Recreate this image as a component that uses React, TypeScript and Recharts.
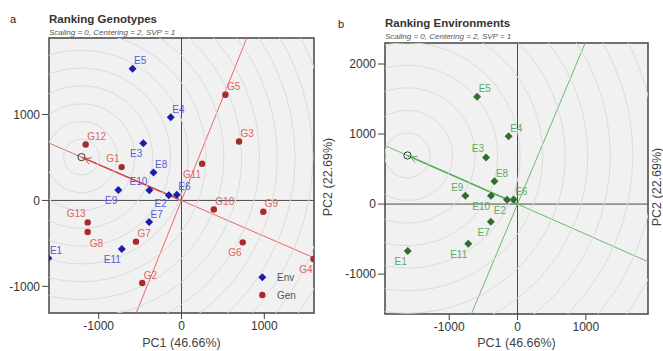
import React from 'react';
import {
  ScatterChart,
  Scatter,
  XAxis,
  YAxis,
  CartesianGrid,
  ReferenceLine,
  ReferenceArea,
} from 'recharts';

const FONT = '"Liberation Sans", Arial, sans-serif';

// environment scores (same in both biplots)
const envNames = ['E1', 'E2', 'E3', 'E4', 'E5', 'E6', 'E7', 'E8', 'E9', 'E10', 'E11'];
const envPC1 = [-1607, -153, -461, -130, -591, -56, -391, -338, -763, -388, -721];
const envPC2 = [-672, 61, 666, 968, 1531, 65, -252, 325, 120, 118, -566];

// genotype scores
const genNames = ['G1', 'G2', 'G3', 'G4', 'G5', 'G6', 'G7', 'G8', 'G9', 'G10', 'G11', 'G12', 'G13'];
const genPC1 = [-723, -474, 695, 1594, 530, 739, -550, -1133, 988, 390, 249, -1157, -1133];
const genPC2 = [388, -961, 686, -681, 1229, -488, -480, -368, -131, -105, 427, 651, -256];

// ideal points on the average environment axis
const idealGenotype = { x: -1208, y: 504 };
const idealEnvironment = { x: -1611, y: 694 };

const pc1Ticks = [-1000, 0, 1000];
const pc2TicksA = [-1000, 0, 1000];
const pc2TicksB = [-1000, 0, 1000, 2000];

// label placement around each marker
const envLabelA: Record<string, string> = {
  E1: 'tr', E2: 'l', E3: 'bl', E4: 'tr', E5: 'tr', E6: 'tr',
  E7: 'tr', E8: 'tr', E9: 'bl', E10: 'tl', E11: 'bl',
};
const genLabelA: Record<string, string> = {
  G1: 'tl', G2: 'tr', G3: 'tr', G4: 'bl', G5: 'tr', G6: 'bl', G7: 'tr',
  G8: 'br', G9: 'tr', G10: 'tr', G11: 'bl', G12: 'tr', G13: 'tl',
};
const envLabelB: Record<string, string> = {
  E1: 'bl', E2: 'bl', E3: 'tl', E4: 'tr', E5: 'tr', E6: 'tr',
  E7: 'bl', E8: 'tr', E9: 'tl', E10: 'bl', E11: 'bl',
};

const envRows = envNames.map((name, i) => ({ name, x: envPC1[i], y: envPC2[i] }));
const genRows = genNames.map((name, i) => ({ name, x: genPC1[i], y: genPC2[i] }));

function placeLabel(cx: number, cy: number, place: string) {
  switch (place) {
    case 'tl':
      return { x: cx - 2, y: cy - 5, anchor: 'end' };
    case 'bl':
      return { x: cx - 1, y: cy + 14, anchor: 'end' };
    case 'l':
      return { x: cx - 2, y: cy + 11.5, anchor: 'end' };
    case 'br':
      return { x: cx + 2, y: cy + 15, anchor: 'start' };
    default:
      return { x: cx + 1.5, y: cy - 4.5, anchor: 'start' };
  }
}

function makeMarker(kind: 'diamond' | 'dot', fill: string, labelFill: string, places: Record<string, string>) {
  return (p: any) => {
    const { cx, cy } = p;
    if (cx == null || cy == null) return <g />;
    const name = p.payload?.name ?? p.name;
    const pos = placeLabel(cx, cy, places[name] ?? 'tr');
    return (
      <g>
        {kind === 'diamond' ? (
          <path d={`M${cx},${cy - 4}L${cx + 4},${cy}L${cx},${cy + 4}L${cx - 4},${cy}Z`} fill={fill} />
        ) : (
          <circle cx={cx} cy={cy} r={3.2} fill={fill} />
        )}
        <text x={pos.x} y={pos.y} textAnchor={pos.anchor as any} fontSize={10} fill={labelFill} fontFamily={FONT}>
          {name}
        </text>
      </g>
    );
  };
}

function makeRings(step: number, count: number, pxPerUnit: number) {
  return (p: any) => {
    const { cx, cy } = p;
    if (cx == null || cy == null) return <g />;
    return (
      <g>
        {Array.from({ length: count }, (_, k) => (
          <circle key={k} cx={cx} cy={cy} r={(k + 1) * step * pxPerUnit} fill="none" stroke="#dcdcdc" strokeWidth={1} />
        ))}
      </g>
    );
  };
}

function makeIdeal(color: string, dirX: number, dirY: number) {
  return (p: any) => {
    const { cx, cy } = p;
    if (cx == null || cy == null) return <g />;
    const ang = Math.atan2(dirY, dirX);
    const L = 7;
    const a = 0.5;
    const tx = cx + 3.5 * Math.cos(ang);
    const ty = cy + 3.5 * Math.sin(ang);
    return (
      <g>
        <circle cx={cx} cy={cy} r={3.6} fill="none" stroke="#333" strokeWidth={1} />
        <path
          d={`M${tx + L * Math.cos(ang - a)},${ty + L * Math.sin(ang - a)}L${tx},${ty}L${tx + L * Math.cos(ang + a)},${ty + L * Math.sin(ang + a)}`}
          fill="none"
          stroke={color}
          strokeWidth={1}
        />
      </g>
    );
  };
}

type BiplotProps = {
  width: number;
  margin: { top: number; right: number; bottom: number; left: number };
  yAxisWidth: number;
  xDomain: [number, number];
  yDomain: [number, number];
  yTicks: number[];
  ideal: { x: number; y: number };
  ringStep: number;
  ringCount: number;
  lineColor: string;
  lineDark: string;
  children?: React.ReactNode;
};

const HEIGHT = 351;
const X_AXIS_H = 30;

function Biplot(props: BiplotProps) {
  const { width, margin, yAxisWidth, xDomain, yDomain, yTicks, ideal, ringStep, ringCount, lineColor, lineDark } = props;
  const plotW = width - margin.left - margin.right - yAxisWidth;
  const plotH = HEIGHT - margin.top - margin.bottom - X_AXIS_H;
  const pxX = plotW / (xDomain[1] - xDomain[0]);
  const pxY = plotH / (yDomain[1] - yDomain[0]);
  const k = 5;
  const tick = { fontSize: 12, fill: '#333', fontFamily: FONT };
  return (
    <ScatterChart width={width} height={HEIGHT} margin={margin}>
      <CartesianGrid horizontal={false} vertical={false} fill="#f1f1f1" />
      <XAxis
        type="number"
        dataKey="x"
        domain={xDomain}
        ticks={pc1Ticks}
        allowDataOverflow
        axisLine={false}
        tickLine={{ stroke: '#444' }}
        tickSize={6}
        tick={tick}
        height={X_AXIS_H}
      />
      <YAxis
        type="number"
        dataKey="y"
        domain={yDomain}
        ticks={yTicks}
        allowDataOverflow
        axisLine={false}
        tickLine={{ stroke: '#444' }}
        tickSize={7}
        tick={tick}
        width={yAxisWidth}
      />
      <Scatter data={[ideal]} shape={makeRings(ringStep, ringCount, pxX)} isAnimationActive={false} />
      <ReferenceLine x={0} stroke="#4a4a4a" strokeWidth={1} />
      <ReferenceLine y={0} stroke="#4a4a4a" strokeWidth={1} />
      <ReferenceLine
        segment={[{ x: ideal.x * k, y: ideal.y * k }, { x: -ideal.x * k, y: -ideal.y * k }]}
        stroke={lineColor}
        strokeWidth={1}
        ifOverflow="hidden"
      />
      <ReferenceLine
        segment={[{ x: ideal.y * k, y: -ideal.x * k }, { x: -ideal.y * k, y: ideal.x * k }]}
        stroke={lineColor}
        strokeWidth={1}
        ifOverflow="hidden"
      />
      <ReferenceLine
        segment={[{ x: ideal.x, y: ideal.y }, { x: 0, y: 0 }]}
        stroke={lineDark}
        strokeWidth={1.6}
        ifOverflow="hidden"
      />
      <ReferenceArea
        x1={xDomain[0]}
        x2={xDomain[1]}
        y1={yDomain[0]}
        y2={yDomain[1]}
        fill="none"
        stroke="#444"
        strokeWidth={1.5}
        ifOverflow="visible"
      />
      {props.children}
      <Scatter data={[ideal]} shape={makeIdeal(lineDark, -ideal.x * pxX, ideal.y * pxY)} isAnimationActive={false} />
    </ScatterChart>
  );
}

export default function App() {
  return (
    <div style={{ position: 'absolute', left: 0, top: 0, width: 663, height: 351, background: '#fff', overflow: 'hidden' }}>
      <div style={{ position: 'absolute', left: 0, top: 0 }}>
        <Biplot
          width={330}
          margin={{ top: 38, right: 16, bottom: 8, left: 5 }}
          yAxisWidth={44}
          xDomain={[-1600, 1600]}
          yDomain={[-1310, 1890]}
          yTicks={pc2TicksA}
          ideal={idealGenotype}
          ringStep={215}
          ringCount={22}
          lineColor="#e46a6a"
          lineDark="#d64545"
        >
          <Scatter data={envRows} shape={makeMarker('diamond', '#1c1cab', '#5a5ad2', envLabelA)} isAnimationActive={false} />
          <Scatter data={genRows} shape={makeMarker('dot', '#a82a2a', '#e06464', genLabelA)} isAnimationActive={false} />
        </Biplot>
      </div>
      <div style={{ position: 'absolute', left: 330, top: 0 }}>
        <Biplot
          width={333}
          margin={{ top: 43, right: 15, bottom: 7, left: 5 }}
          yAxisWidth={50}
          xDomain={[-1940, 1910]}
          yDomain={[-1570, 2300]}
          yTicks={pc2TicksB}
          ideal={idealEnvironment}
          ringStep={330}
          ringCount={18}
          lineColor="#6cbb6c"
          lineDark="#5aae5a"
        >
          <Scatter data={envRows} shape={makeMarker('diamond', '#2f6e2f', '#5eaa5e', envLabelB)} isAnimationActive={false} />
        </Biplot>
      </div>
      <svg
        width={663}
        height={351}
        style={{ position: 'absolute', left: 0, top: 0, pointerEvents: 'none' }}
        fontFamily={FONT}
      >
        <text x={10} y={23} fontSize={11} fill="#222">a</text>
        <text x={49} y={23} fontSize={11.5} fontWeight="bold" fill="#333">Ranking Genotypes</text>
        <text x={49} y={34.5} fontSize={8} fontStyle="italic" fill="#555">Scaling = 0, Centering = 2, SVP = 1</text>
        <text x={338} y={27.5} fontSize={11} fill="#222">b</text>
        <text x={385} y={27} fontSize={11.5} fontWeight="bold" fill="#333">Ranking Environments</text>
        <text x={385} y={39} fontSize={8} fontStyle="italic" fill="#555">Scaling = 0, Centering = 2, SVP = 1</text>
        <text x={181.5} y={347} fontSize={12.5} textAnchor="middle" fill="#444">PC1 (46.66%)</text>
        <text x={516.5} y={347} fontSize={12.5} textAnchor="middle" fill="#444">PC1 (46.66%)</text>
        <text x={332} y={177} fontSize={12.5} textAnchor="middle" fill="#444" transform="rotate(-90 332 177)">
          PC2 (22.69%)
        </text>
        <text x={661} y={187} fontSize={12.5} textAnchor="middle" fill="#444" transform="rotate(-90 661 187)">
          PC2 (22.69%)
        </text>
        <path d="M262.3,273.3L266.3,277.3L262.3,281.3L258.3,277.3Z" fill="#1c1cab" />
        <text x={277} y={281} fontSize={10} fill="#555">Env</text>
        <circle cx={262.3} cy={295} r={3.2} fill="#a82a2a" />
        <text x={277} y={298.5} fontSize={10} fill="#555">Gen</text>
      </svg>
    </div>
  );
}
